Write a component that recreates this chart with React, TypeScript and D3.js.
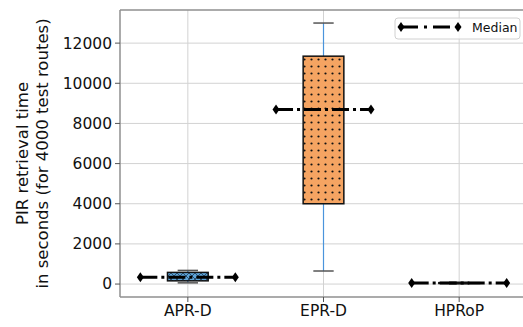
import * as d3 from "d3";
import { useEffect } from "react";

const categories = ["APR-D", "EPR-D", "HPRoP"];
const whiskerLow = [60, 650, 5];
const q1 = [160, 4000, 30];
const median = [340, 8700, 50];
const q3 = [580, 11350, 70];
const whiskerHigh = [680, 13000, 95];
const yTicks = [0, 2000, 4000, 6000, 8000, 10000, 12000];
const boxFills = ["#5ea4d8", "#f5a462", "#7fbf7f"];
const boxPatterns = ["hatchX", "hatchDots", "hatchNone"];

function BoxChart({
  width = 523,
  height = 327,
  marginTop = 10,
  marginRight = -4,
  marginBottom = 30,
  marginLeft = 120,
}: {
  width?: number;
  height?: number;
  marginTop?: number;
  marginRight?: number;
  marginBottom?: number;
  marginLeft?: number;
}) {
  const x = d3
    .scaleLinear()
    .domain([0.5, 3.5])
    .range([marginLeft, width - marginRight]);
  const lo = d3.min(whiskerLow) as number;
  const hi = d3.max(whiskerHigh) as number;
  const pad = (hi - lo) * 0.05;
  const y = d3
    .scaleLinear()
    .domain([lo - pad, hi + pad])
    .range([height - marginBottom, marginTop]);

  const unit = x(2) - x(1);
  const boxHalf = unit * 0.15;
  const capHalf = unit * 0.075;
  const medHalf = unit * 0.35;
  const font = "DejaVu Sans, sans-serif";
  const gridColor = "#d2d2d2";
  const spineColor = "#8f8f8f";
  const diamond = (cx: number, cy: number) =>
    `M${cx},${cy - 5}L${cx + 3.5},${cy}L${cx},${cy + 5}L${cx - 3.5},${cy}Z`;

  const left = x(0.5);
  const right = x(3.5);
  const top = y(hi + pad);
  const bottom = y(lo - pad);

  return (
    <svg
      width={width}
      height={height}
      style={{ position: "fixed", left: 0, top: 0, display: "block", fontFamily: font, overflow: "hidden" }}
    >
      <defs>
        <pattern id="hatchX" width="6" height="6" patternUnits="userSpaceOnUse">
          <path d="M0,0L6,6M6,0L0,6" stroke="#1f3b57" strokeWidth="0.8" />
        </pattern>
        <pattern id="hatchDots" width="7" height="7" patternUnits="userSpaceOnUse">
          <circle cx="3.5" cy="3.5" r="1.1" fill="#111" />
        </pattern>
        <pattern id="hatchNone" width="6" height="6" patternUnits="userSpaceOnUse" />
      </defs>
      <rect width={width} height={height} fill="white" />
      {/* grid */}
      <g stroke={gridColor} strokeWidth={1}>
        {yTicks.map((t) => (
          <line key={t} x1={left} x2={right} y1={y(t)} y2={y(t)} />
        ))}
        {categories.map((c, i) => (
          <line key={c} x1={x(i + 1)} x2={x(i + 1)} y1={top} y2={bottom} />
        ))}
      </g>
      {/* boxes */}
      {categories.map((c, i) => {
        const cx = x(i + 1);
        return (
          <g key={c}>
            <line x1={cx} x2={cx} y1={y(q3[i])} y2={y(whiskerHigh[i])} stroke="#4a94dc" strokeWidth={1.2} />
            <line x1={cx} x2={cx} y1={y(q1[i])} y2={y(whiskerLow[i])} stroke="#4a94dc" strokeWidth={1.2} />
            <line x1={cx - capHalf} x2={cx + capHalf} y1={y(whiskerHigh[i])} y2={y(whiskerHigh[i])} stroke="#555" strokeWidth={1.5} />
            <line x1={cx - capHalf} x2={cx + capHalf} y1={y(whiskerLow[i])} y2={y(whiskerLow[i])} stroke="#555" strokeWidth={1.5} />
            <rect x={cx - boxHalf} y={y(q3[i])} width={boxHalf * 2} height={y(q1[i]) - y(q3[i])} fill={boxFills[i]} />
            <rect
              x={cx - boxHalf}
              y={y(q3[i])}
              width={boxHalf * 2}
              height={y(q1[i]) - y(q3[i])}
              fill={`url(#${boxPatterns[i]})`}
              stroke="#111"
              strokeWidth={1.5}
            />
          </g>
        );
      })}
      {/* medians */}
      {categories.map((c, i) => {
        const cx = x(i + 1);
        const my = y(median[i]);
        return (
          <g key={c + "m"}>
            <line x1={cx - medHalf} x2={cx + medHalf} y1={my} y2={my} stroke="black" strokeWidth={3} strokeDasharray="17,4,3,4" />
            <path d={diamond(cx - medHalf, my)} fill="black" />
            <path d={diamond(cx + medHalf, my)} fill="black" />
          </g>
        );
      })}
      {/* spines */}
      <g stroke={spineColor} strokeWidth={1.5} fill="none">
        <line x1={left} x2={left} y1={top} y2={bottom} />
        <line x1={left} x2={right} y1={top} y2={top} />
        <line x1={left} x2={right} y1={bottom} y2={bottom} />
      </g>
      {/* y axis */}
      {yTicks.map((t) => (
        <g key={t}>
          <line x1={left - 5} x2={left} y1={y(t)} y2={y(t)} stroke="#555" strokeWidth={1} />
          <text x={left - 8} y={y(t)} dy="0.35em" textAnchor="end" fontSize={15.5} fill="#111">
            {t}
          </text>
        </g>
      ))}
      {/* x axis */}
      {categories.map((c, i) => (
        <g key={c + "x"}>
          <line x1={x(i + 1)} x2={x(i + 1)} y1={bottom} y2={bottom + 5} stroke="#555" strokeWidth={1} />
          <text x={x(i + 1)} y={bottom + 19} textAnchor="middle" fontSize={15.5} fill="#111">
            {c}
          </text>
        </g>
      ))}
      {/* y label */}
      <g transform={`translate(28,${(top + bottom) / 2}) rotate(-90)`}>
        <text textAnchor="middle" fontSize={16.5} fill="#111">
          <tspan x={0} y={0}>PIR retrieval time</tspan>
          <tspan x={0} y={19.5}>in seconds (for 4000 test routes)</tspan>
        </text>
      </g>
      {/* legend */}
      <g>
        <rect x={395} y={18} width={125} height={21} rx={3} fill="white" fillOpacity={0.8} stroke="#d0d0d0" strokeWidth={1} />
        <line x1={401} x2={458} y1={27} y2={27} stroke="black" strokeWidth={3} strokeDasharray="17,6,3,6" />
        <path d={diamond(401, 27)} fill="black" />
        <path d={diamond(458, 27)} fill="black" />
        <text x={472} y={32} fontSize={12.5} fill="#111">
          Median
        </text>
      </g>
    </svg>
  );
}

export default function App() {
  useEffect(() => {
    document.documentElement.style.overflow = "hidden";
    document.body.style.overflow = "hidden";
  }, []);
  return (
    <div>
      <BoxChart />
    </div>
  );
}
